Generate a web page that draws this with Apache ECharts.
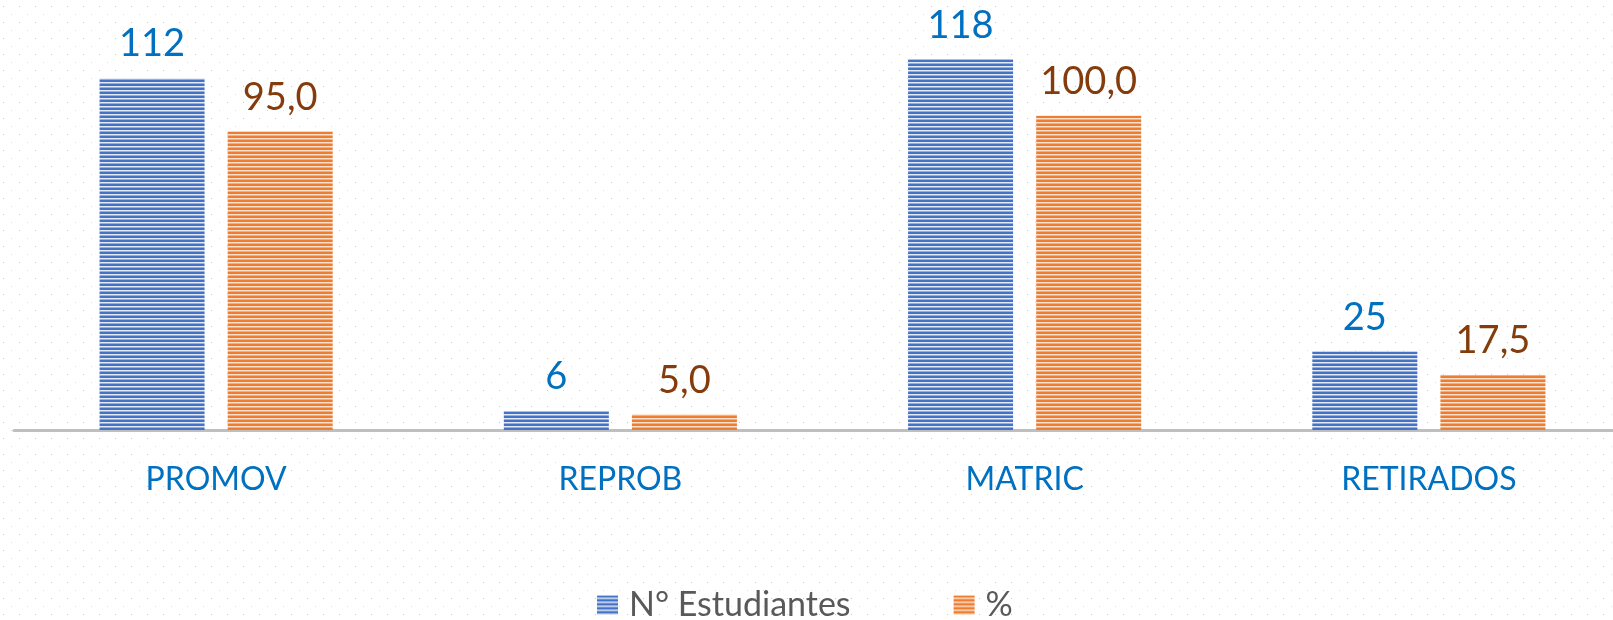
<!DOCTYPE html>
<html>
<head>
<meta charset="utf-8">
<script src="https://cdn.jsdelivr.net/npm/echarts@6/dist/echarts.min.js"></script>
<style>
  html, body { margin: 0; padding: 0; background: #fff; }
  #chart { width: 1613px; height: 620px; }
</style>
</head>
<body>
<div id="chart"></div>
<script>
// datos
const categorias = ['PROMOV', 'REPROB', 'MATRIC', 'RETIRADOS']
const estudiantes = [112, 6, 118, 25]
const porcentaje = [95.0, 5.0, 100.0, 17.5]
const nombres = ['N° Estudiantes', '%']

// patron de rayas horizontales para las barras
function stripes (main, light) {
  const c = document.createElement('canvas')
  c.width = 4
  c.height = 4
  const ctx = c.getContext('2d')
  ctx.fillStyle = main
  ctx.fillRect(0, 0, 4, 4)
  ctx.fillStyle = light
  ctx.fillRect(0, 2, 4, 1)
  ctx.fillStyle = light
  ctx.globalAlpha = 0.5
  ctx.fillRect(0, 3, 4, 1)
  return { image: c, repeat: 'repeat' }
}

// fondo punteado
function dots () {
  const c = document.createElement('canvas')
  c.width = 16
  c.height = 16
  const ctx = c.getContext('2d')
  ctx.fillStyle = '#fff'
  ctx.fillRect(0, 0, 16, 16)
  ctx.fillStyle = '#c8c8c8'
  ctx.fillRect(3, 6, 1, 1)
  ctx.fillStyle = '#dcdcdc'
  ctx.fillRect(11, 14, 1, 1)
  return { image: c, repeat: 'repeat' }
}

const font = 'Lato, "Liberation Sans", sans-serif'
const chart = echarts.init(document.getElementById('chart'))

chart.setOption({
  animation: false,
  backgroundColor: '#fff',
  graphic: [{
    type: 'rect',
    z: -10,
    silent: true,
    shape: { x: 0, y: 0, width: 1613, height: 620 },
    style: { fill: dots() }
  }],
  textStyle: { fontFamily: font },
  grid: { left: 14, width: 1617, top: 53, bottom: 190, outerBoundsMode: 'none', containLabel: false },
  legend: {
    data: nombres,
    left: 592,
    top: 583,
    itemWidth: 21,
    itemHeight: 19,
    itemGap: 103,
    icon: 'rect',
    textStyle: { color: '#595959', fontSize: 34, fontFamily: font, padding: [0, 0, 0, 6] }
  },
  xAxis: {
    type: 'category',
    data: categorias,
    axisTick: { show: false },
    axisLine: { lineStyle: { color: '#bfbfbf', width: 3 } },
    axisLabel: { color: '#0070c0', fontSize: 32, margin: 34, fontFamily: font }
  },
  yAxis: {
    type: 'value',
    min: 0,
    max: 120,
    show: false,
    splitLine: { show: false }
  },
  series: [
    {
      name: nombres[0],
      type: 'bar',
      data: estudiantes,
      barWidth: 105,
      barGap: '22%',
      itemStyle: { color: stripes('#4472c4', '#e3eaf6') },
      label: {
        show: true,
        position: 'top',
        distance: 15,
        color: '#0070c0',
        fontSize: 38,
        fontFamily: font
      }
    },
    {
      name: nombres[1],
      type: 'bar',
      data: porcentaje,
      barWidth: 105,
      itemStyle: { color: stripes('#ed7d31', '#fbe0cd') },
      label: {
        show: true,
        position: 'top',
        distance: 15,
        color: '#843c0c',
        fontSize: 38,
        fontFamily: font,
        formatter: p => p.value.toFixed(1).replace('.', ',')
      }
    }
  ]
})
</script>
</body>
</html>
